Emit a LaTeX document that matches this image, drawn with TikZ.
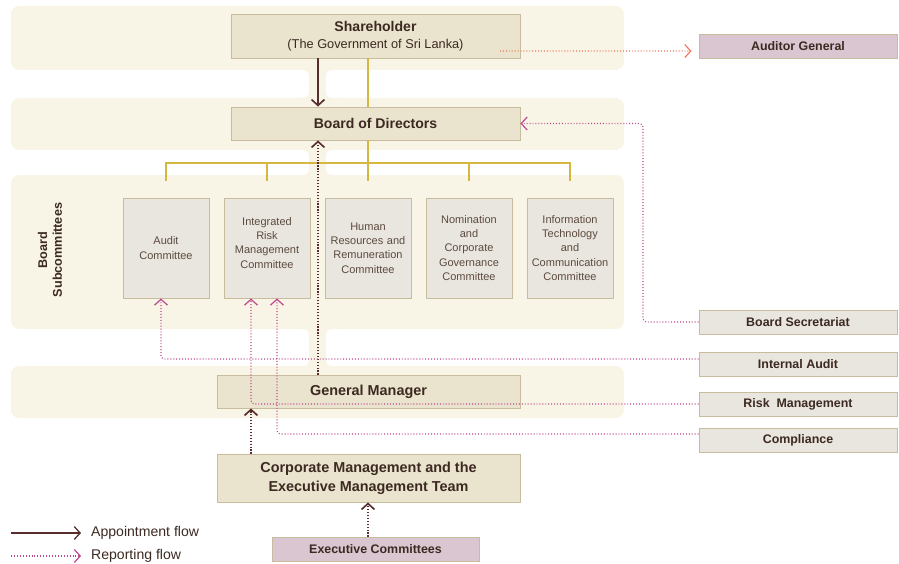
\documentclass[tikz,border=0pt]{standalone}
\usepackage{fontspec}
\setmainfont{Liberation Sans}
\usetikzlibrary{arrows.meta}

\definecolor{bandcol}{RGB}{248,245,231}
\definecolor{boxfill}{RGB}{234,227,205}
\definecolor{boxline}{RGB}{201,187,157}
\definecolor{comfill}{RGB}{233,229,223}
\definecolor{mauve}{RGB}{217,198,208}
\definecolor{gold}{RGB}{214,184,64}
\definecolor{darkbrown}{RGB}{88,45,45}
\definecolor{magentadot}{RGB}{190,70,140}
\definecolor{orangedot}{RGB}{240,118,88}
\definecolor{labeltext}{RGB}{60,42,34}
\definecolor{comtext}{RGB}{92,75,63}

\tikzset{
  band/.style={fill=bandcol, rounded corners=7pt},
  mainbox/.style={draw=boxline, fill=boxfill, line width=0.8pt, text=labeltext, inner sep=0pt,
    minimum width=8.67cm, align=center, font=\bfseries\fontsize{12}{14.5}\selectfont},
  combox/.style={draw=boxline, fill=comfill, line width=0.8pt, text=comtext, minimum width=2.58cm,
    minimum height=3cm, text width=2.5cm, inner sep=0pt, align=center, font=\fontsize{9.4}{12.2}\selectfont},
  sidebox/.style={draw=boxline, fill=comfill, line width=0.8pt, text=labeltext, minimum width=5.94cm,
    minimum height=0.72cm, inner sep=0pt, font=\bfseries\fontsize{10.6}{12}\selectfont},
  mauvebox/.style={sidebox, fill=mauve},
  tree/.style={draw=gold, line width=1pt},
  appoint/.style={draw=darkbrown, line width=1.4pt, -{Straight Barb[length=5pt,width=11pt]}},
  darkdot/.style={draw=darkbrown, line width=1.4pt, dash pattern=on 1pt off 1.5pt,
    -{Straight Barb[length=5pt,width=11pt]}},
  report/.style={draw=magentadot, line width=1pt, dash pattern=on 0.8pt off 1.7pt, rounded corners=3pt,
    -{Straight Barb[length=5pt,width=11pt]}},
  auditreport/.style={report, draw=orangedot},
  legendtext/.style={anchor=west, inner xsep=8.5pt, inner ysep=0pt, text=labeltext, font=\fontsize{12}{14}\selectfont}
}

\begin{document}
\begin{tikzpicture}[x=0.03cm, y=-0.03cm]
    \useasboundingbox (0,0) rectangle (899,564);

    % Draw the background bands
    \fill[band] (11,6) rectangle (624,70);
    \fill[band] (11,98) rectangle (624,150);
    \fill[band] (11,175) rectangle (624,329);
    \fill[band] (11,366) rectangle (624,418);
    \foreach \ya/\yb in {70/98,150/175,329/366} {
        \fill[bandcol, rounded corners=5pt] (290,\ya-10) -- (290,\ya) -- (309,\ya) -- (309,\yb) -- (290,\yb)
            -- (290,\yb+10) -- (345,\yb+10) -- (345,\yb) -- (326,\yb) -- (326,\ya) -- (345,\ya) -- (345,\ya-10) -- cycle;
    }

    % x positions of the vertical connectors
    \coordinate (spine) at (318,0);
    \coordinate (trunk) at (368,0);
    \coordinate (auditx) at (161,0);
    \coordinate (riskx) at (251,0);
    \coordinate (compx) at (277,0);
    \coordinate (secx) at (643,0);

    % Draw the main boxes
    \node[mainbox, minimum height=1.32cm] (sh) at (375.5,36) {Shareholder\\{\mdseries\fontsize{10.9}{14.5}\selectfont (The Government of Sri Lanka)}};
    \node[mainbox, minimum height=0.99cm] (bod) at (375.5,123.5) {Board of Directors};
    \node[mainbox, minimum width=9.09cm, minimum height=0.99cm, font=\bfseries\fontsize{12.3}{16.2}\selectfont] (gm) at (368.5,391.5) {General Manager};
    \node[mainbox, minimum width=9.09cm, minimum height=1.44cm, font=\bfseries\fontsize{12.3}{16.2}\selectfont] (cm) at (368.5,478) {Corporate Management and the\\Executive Management Team};
    \node[mauvebox, minimum width=6.21cm] (ex) at (375.5,549) {Executive Committees};

    % Draw the board subcommittees
    \node[combox] (audit) at (166,248) {Audit\\Committee};
    \node[combox] (irmc) at (267,248) {Integrated\\Risk\\Management\\Committee\\[-3pt]\mbox{}};
    \node[combox] (hr) at (368,248) {Human\\Resources and\\Remuneration\\Committee};
    \node[combox] (nom) at (469,248) {Nomination\\and\\Corporate\\Governance\\Committee};
    \node[combox] (it) at (570,248) {Information\\Technology\\and\\Communication\\Committee};
    \node[rotate=90, align=center, text=labeltext, font=\bfseries\fontsize{10.8}{12.5}\selectfont] (subc) at (50,250) {Board\\Subcommittees};

    % Draw the boxes on the right
    \node[mauvebox] (ag) at (798,46) {Auditor General};
    \node[sidebox] (bs) at (798,322) {Board Secretariat};
    \node[sidebox] (ia) at (798,364) {Internal Audit};
    \node[sidebox] (rm) at (798,404) {Risk\ \ Management};
    \node[sidebox] (comp) at (798,440) {Compliance};

    % Draw the committee tree
    \draw[tree] (sh.south -| trunk) -- (bod.north -| trunk);
    \draw[tree] (bod.south -| trunk) -- (hr.north |- 0,181);
    \draw[tree] (audit.north |- 0,181) |- (0,163 -| it.north) -- (it.north |- 0,181);
    \foreach \c in {irmc,nom} {
        \draw[tree] (\c.north |- 0,163) -- (\c.north |- 0,181);
    }

    % Appointment and reporting flows
    \draw[appoint] (sh.south -| spine) -- (bod.north -| spine);
    \draw[darkdot] (gm.north -| spine) -- (bod.south -| spine);
    \draw[darkdot] (cm.north -| riskx) -- (gm.south -| riskx);
    \draw[darkdot] (ex.north -| trunk) -- (cm.south -| trunk);
    \coordinate (govend) at (500,51);
    \draw[auditreport] (govend) -- ([xshift=-6pt,yshift=-4.3pt]ag.west);
    \draw[report] (bs.west) -| (bod.east -| secx) -- (bod.east);
    \draw[report] ([yshift=4.3pt]ia.west) -| (audit.south -| auditx);
    \draw[report] (rm.west) -| (irmc.south -| riskx);
    \draw[report] ([yshift=5.1pt]comp.west) -| (irmc.south -| compx);

    % Draw the legend
    \coordinate (lgstart1) at (11,533);
    \coordinate (lgstart2) at (11,556);
    \node[legendtext] (lgapp) at (81,533) {Appointment flow};
    \node[legendtext] (lgrep) at (81,556) {Reporting flow};
    \draw[appoint, line width=1.1pt] (lgstart1) -- (lgapp.west);
    \draw[report] (lgstart2) -- (lgrep.west);
\end{tikzpicture}
\end{document}
